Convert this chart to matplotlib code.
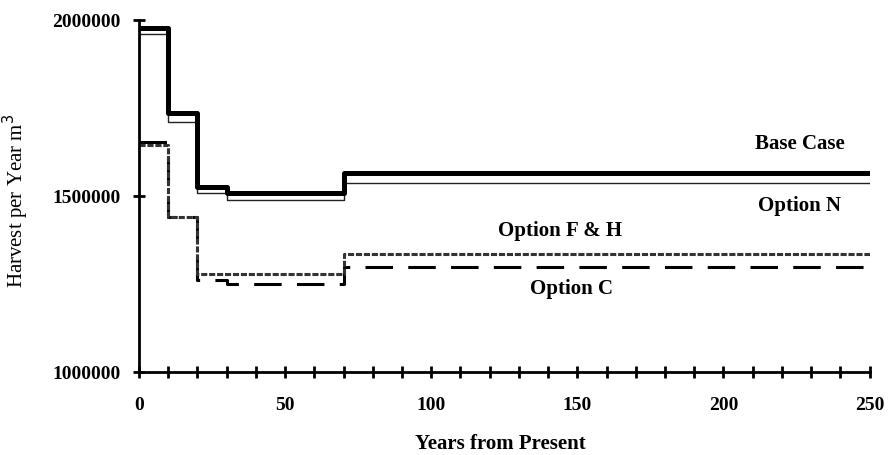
import matplotlib.pyplot as plt
from matplotlib.ticker import MultipleLocator, FormatStrFormatter

# step change points (years) and harvest levels (m3 per year)
years = [0, 10, 20, 30, 70, 250]
base_case = [1977000, 1737000, 1527000, 1508000, 1565000, 1565000]
option_n = [1960000, 1710000, 1510000, 1490000, 1538000, 1538000]
option_fh = [1645000, 1440000, 1280000, 1280000, 1335000, 1335000]
option_c = [1655000, 1440000, 1263000, 1250000, 1298000, 1298000]

plt.rcParams['font.family'] = ['Liberation Serif', 'DejaVu Serif']

fig = plt.figure(figsize=(8.91, 4.55), dpi=100)
ax = fig.add_axes([0.156, 0.182, 0.82, 0.774])

ax.step(years, option_c, where='post', color='black', lw=2.2,
        linestyle=(0, (9, 5)))
ax.step(years, option_fh, where='post', color='#333333', lw=2.2,
        linestyle=(0, (2, 0.6)))
ax.step(years, option_n, where='post', color='#222222', lw=1.0)
ax.step(years, base_case, where='post', color='black', lw=3.6)

ax.set_xlim(0, 250)
ax.set_ylim(1000000, 2000000)
ax.xaxis.set_major_locator(MultipleLocator(50))
ax.xaxis.set_minor_locator(MultipleLocator(10))
ax.yaxis.set_major_locator(MultipleLocator(500000))
ax.yaxis.set_major_formatter(FormatStrFormatter('%d'))

for s in ['top', 'right']:
    ax.spines[s].set_visible(False)
for s in ['left', 'bottom']:
    ax.spines[s].set_linewidth(2)
    ax.spines[s].set_clip_on(False)

ax.tick_params(axis='both', which='both', direction='inout', width=2,
               length=9, labelsize=14, pad=9)
ax.tick_params(axis='x', which='both', length=8, pad=14)
for lab in ax.get_xticklabels() + ax.get_yticklabels():
    lab.set_fontweight('bold')

ax.set_xlabel('Years from Present', fontsize=15, fontweight='bold')
ax.set_ylabel('Harvest per Year m$^3$', fontsize=15)
ax.xaxis.set_label_coords(0.494, -0.175)
ax.yaxis.set_label_coords(-0.148, 0.486)

ax.text(226, 1648000, 'Base Case', fontsize=15, fontweight='bold',
        ha='center', va='center')
ax.text(226, 1472000, 'Option N', fontsize=15, fontweight='bold',
        ha='center', va='center')
ax.text(144, 1400000, 'Option F & H', fontsize=15, fontweight='bold',
        ha='center', va='center')
ax.text(148, 1236000, 'Option C', fontsize=15, fontweight='bold',
        ha='center', va='center')

fig.savefig('out.png', dpi=100)
